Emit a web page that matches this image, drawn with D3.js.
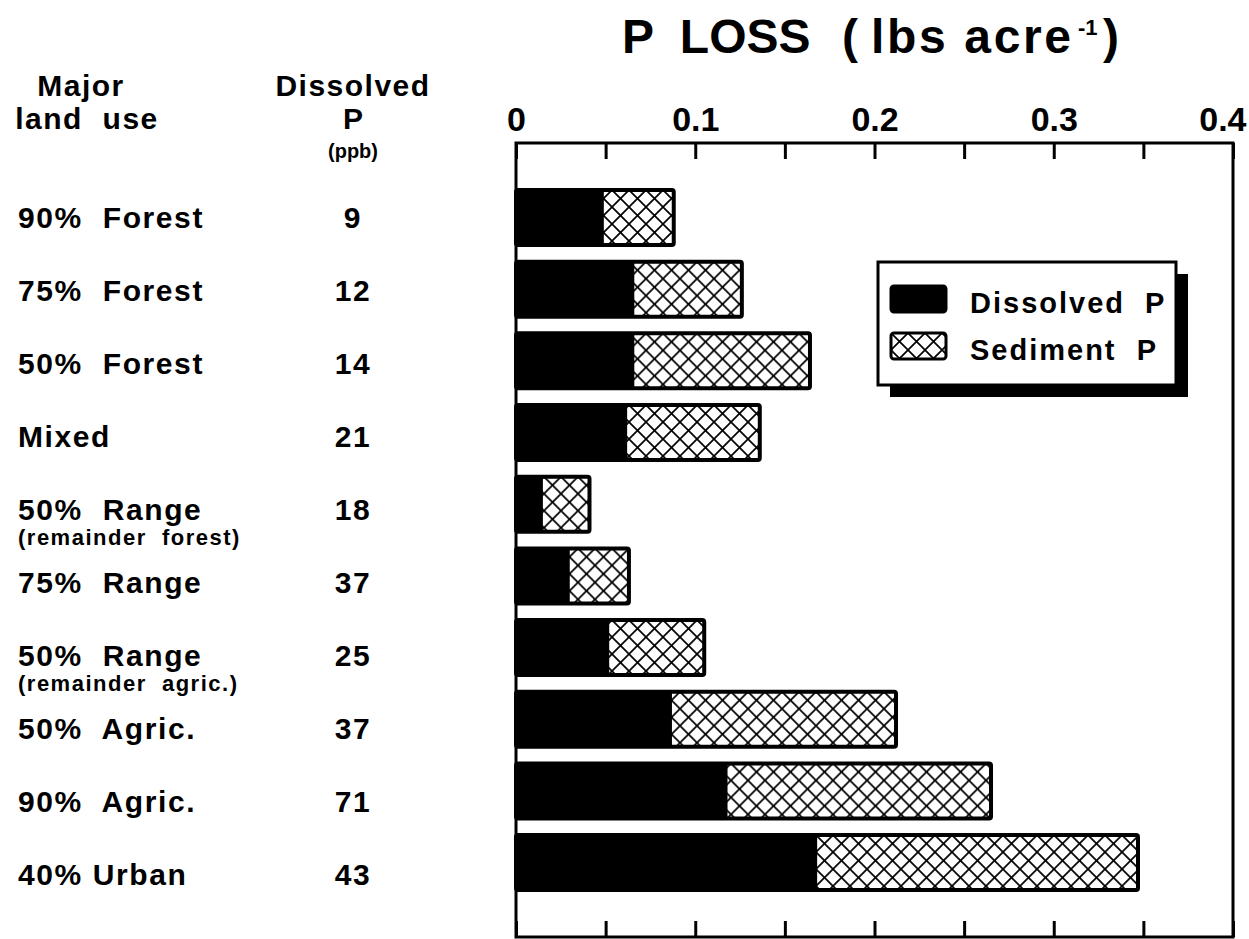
<!DOCTYPE html>
<html>
<head>
<meta charset="utf-8">
<script src="https://cdn.jsdelivr.net/npm/d3@7"></script>
<style>
  body { margin: 0; background: #fff; }
  svg text { font-family: "Liberation Sans", Arial, Helvetica, sans-serif; fill: #000; white-space: pre; }
</style>
</head>
<body>
<div id="vis"></div>
<script>
// land use rows, top to bottom
var landUse = ["90%  Forest", "75%  Forest", "50%  Forest", "Mixed", "50%  Range",
               "75%  Range", "50%  Range", "50%  Agric.", "90%  Agric.", "40% Urban"];
var landNote = ["", "", "", "", "(remainder  forest)", "", "(remainder  agric.)", "", "", ""];
var dissolvedPpb = [9, 12, 14, 21, 18, 37, 25, 37, 71, 43];

// P loss, lbs / acre
var dissolvedLoss = [0.049, 0.066, 0.066, 0.062, 0.015, 0.030, 0.052, 0.087, 0.118, 0.168];
var totalLoss     = [0.088, 0.126, 0.164, 0.136, 0.041, 0.063, 0.105, 0.212, 0.265, 0.347];

var tickValues = [0, 0.05, 0.1, 0.15, 0.2, 0.25, 0.3, 0.35, 0.4];
var tickLabels = ["0", "", "0.1", "", "0.2", "", "0.3", "", "0.4"];
var legendItems = ["Dissolved  P", "Sediment  P"];

var W = 1249, H = 939;
var plotLeft = 516, plotRight = 1233, plotTop = 143, plotBottom = 937;

var svg = d3.select("#vis").append("svg")
    .attr("width", W)
    .attr("height", H);

var defs = svg.append("defs");
var pat = defs.append("pattern")
    .attr("id", "hatch")
    .attr("patternUnits", "userSpaceOnUse")
    .attr("width", 17)
    .attr("height", 17);
pat.append("rect").attr("width", 17).attr("height", 17).attr("fill", "#fff");
pat.append("path")
    .attr("d", "M0,0L17,17M17,0L0,17M-2,15L2,19M15,-2L19,2M-2,2L2,-2M15,19L19,15")
    .attr("stroke", "#000")
    .attr("stroke-width", 1.7);

var x = d3.scaleLinear()
    .domain([0, 0.4])
    .range([plotLeft, plotRight]);

var y = d3.scaleBand()
    .domain(landUse.map(function(d, i) { return i; }))
    .range([181.7, 898.4])
    .paddingInner(0.233)
    .paddingOuter(0.116);

// label rows sit on a slightly different pitch than the bars
var yLabel = d3.scalePoint()
    .domain(landUse.map(function(d, i) { return i; }))
    .range([228, 885]);

// title
var title = svg.append("g").attr("font-weight", "bold").attr("font-size", 48);
title.append("text").attr("x", 622).attr("y", 53).text("P  LOSS");
title.append("text").attr("x", 842).attr("y", 53).text("(");
title.append("text").attr("x", 871).attr("y", 53)
    .attr("textLength", 200).attr("lengthAdjust", "spacing")
    .text("lbs acre");
title.append("text").attr("x", 1078).attr("y", 35)
    .attr("font-size", 22).text("-1");
title.append("text").attr("x", 1103).attr("y", 53).text(")");

// frame
svg.append("rect")
    .attr("x", plotLeft)
    .attr("y", plotTop)
    .attr("width", plotRight - plotLeft)
    .attr("height", plotBottom - plotTop)
    .attr("fill", "none")
    .attr("stroke", "#000")
    .attr("stroke-width", 3);

// top axis, ticks inward
var topAxis = d3.axisTop(x)
    .tickValues(tickValues)
    .tickSize(-16)
    .tickPadding(12)
    .tickFormat(function(d, i) { return tickLabels[i]; });
var gTop = svg.append("g")
    .attr("transform", "translate(0," + plotTop + ")")
    .call(topAxis);
gTop.select(".domain").remove();
gTop.selectAll("line").attr("stroke", "#000").attr("stroke-width", 3);
gTop.selectAll("text")
    .attr("font-size", 34)
    .attr("font-weight", "bold")
    .attr("font-family", "Liberation Sans, Arial, sans-serif")
    .attr("fill", "#000");
gTop.selectAll(".tick").filter(function(d) { return d === 0.4; })
    .select("text").attr("text-anchor", "end").attr("dx", 13);

// bottom axis, ticks inward, no labels
var bottomAxis = d3.axisBottom(x)
    .tickValues(tickValues)
    .tickSize(-16)
    .tickFormat("");
var gBot = svg.append("g")
    .attr("transform", "translate(0," + plotBottom + ")")
    .call(bottomAxis);
gBot.select(".domain").remove();
gBot.selectAll("line").attr("stroke", "#000").attr("stroke-width", 3);

// bars
var rows = svg.append("g").selectAll("g")
    .data(landUse)
    .join("g")
    .attr("transform", function(d, i) { return "translate(0," + y(i) + ")"; });

rows.append("rect")
    .attr("x", x(0))
    .attr("width", function(d, i) { return x(totalLoss[i]) - x(0); })
    .attr("height", y.bandwidth())
    .attr("fill", "url(#hatch)");

rows.append("rect")
    .attr("x", x(0))
    .attr("width", function(d, i) { return x(dissolvedLoss[i]) - x(0); })
    .attr("height", y.bandwidth())
    .attr("fill", "#000");

rows.append("rect")
    .attr("x", x(0))
    .attr("width", function(d, i) { return x(totalLoss[i]) - x(0); })
    .attr("height", y.bandwidth())
    .attr("fill", "none")
    .attr("stroke", "#000")
    .attr("stroke-width", 4)
    .attr("rx", 2);

// left headers
var hdr = svg.append("g").attr("font-weight", "bold").attr("text-anchor", "middle");
hdr.append("text").attr("x", 81).attr("y", 96).attr("font-size", 30).attr("letter-spacing", 1.5).text("Major");
hdr.append("text").attr("x", 87).attr("y", 129).attr("font-size", 30).attr("letter-spacing", 1.5).text("land  use");
hdr.append("text").attr("x", 353).attr("y", 96).attr("font-size", 30).attr("letter-spacing", 1.5).text("Dissolved");
hdr.append("text").attr("x", 353).attr("y", 129).attr("font-size", 30).text("P");
hdr.append("text").attr("x", 353).attr("y", 158).attr("font-size", 20).text("(ppb)");

// row labels
var labels = svg.append("g").attr("font-weight", "bold");
labels.selectAll("text.lu")
    .data(landUse)
    .join("text")
    .attr("class", "lu")
    .attr("x", 18)
    .attr("y", function(d, i) { return yLabel(i); })
    .attr("font-size", 30)
    .attr("letter-spacing", 1.6)
    .text(function(d) { return d; });

labels.selectAll("text.note")
    .data(landNote)
    .join("text")
    .attr("class", "note")
    .attr("x", 18)
    .attr("y", function(d, i) { return yLabel(i) + 25; })
    .attr("font-size", 22)
    .attr("letter-spacing", 1.5)
    .text(function(d) { return d; });

labels.selectAll("text.ppb")
    .data(dissolvedPpb)
    .join("text")
    .attr("class", "ppb")
    .attr("x", 353)
    .attr("y", function(d, i) { return yLabel(i); })
    .attr("font-size", 30)
    .attr("letter-spacing", 1.6)
    .attr("text-anchor", "middle")
    .text(function(d) { return d; });

// legend with drop shadow
var leg = svg.append("g").attr("transform", "translate(878,262)");
leg.append("rect")
    .attr("x", 12).attr("y", 12)
    .attr("width", 298).attr("height", 123)
    .attr("fill", "#000");
leg.append("rect")
    .attr("width", 298).attr("height", 123)
    .attr("fill", "#fff")
    .attr("stroke", "#000")
    .attr("stroke-width", 3);

var legRow = leg.selectAll("g.item")
    .data(legendItems)
    .join("g")
    .attr("class", "item")
    .attr("transform", function(d, i) { return "translate(13," + (24 + i * 47) + ")"; });
legRow.append("rect")
    .attr("width", 55).attr("height", 26)
    .attr("rx", 3)
    .attr("fill", function(d, i) { return i === 0 ? "#000" : "url(#hatch)"; })
    .attr("stroke", "#000")
    .attr("stroke-width", 3);
legRow.append("text")
    .attr("x", 79)
    .attr("y", 27)
    .attr("font-size", 29)
    .attr("font-weight", "bold")
    .attr("letter-spacing", 2)
    .text(function(d) { return d; });
</script>
</body>
</html>
